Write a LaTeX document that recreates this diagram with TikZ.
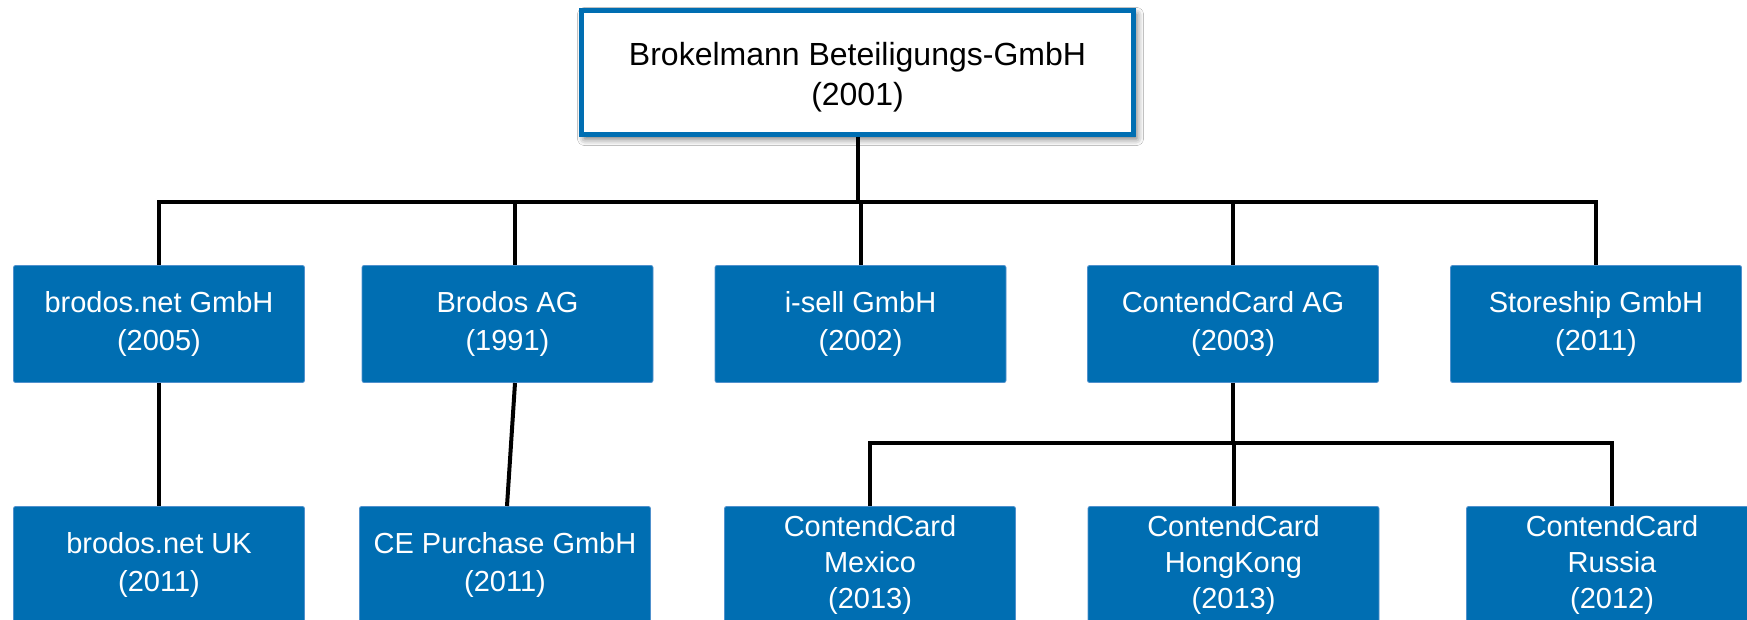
\documentclass[tikz,border=0pt]{standalone}
\usepackage{fontspec}
\setmainfont{Liberation Sans}
\usetikzlibrary{shadows.blur}
\definecolor{boxblue}{RGB}{0,110,178}
\definecolor{boxedge}{RGB}{80,145,205}
\begin{document}
\begin{tikzpicture}[x=1pt,y=-1pt,
  unit/.style={fill=boxblue, draw=boxedge, line width=0.8pt, rounded corners=2pt,
    minimum width=291pt, minimum height=117pt, inner sep=0pt, text=white,
    align=center, font=\fontsize{29}{38}\selectfont},
  unitb/.style={unit, font=\fontsize{29}{36}\selectfont},
  topbox/.style={fill=white, draw=boxblue, line width=5pt, minimum width=552pt,
    minimum height=124pt, inner sep=0pt,
    blur shadow={shadow xshift=3pt, shadow yshift=-4pt, shadow blur radius=7pt, shadow opacity=60}},
  toptext/.style={align=center, inner sep=0pt, font=\fontsize{32}{40}\selectfont},
  link/.style={draw=black, line width=4pt}]
\useasboundingbox (0,0) rectangle (1747,620);
\fill[white] (0,0) rectangle (1747,620);

\node[topbox] (top) at (857.5,72.5) {};
\node[toptext] (toplabel) at (857.5,77.5) {Brokelmann Beteiligungs-GmbH\\(2001)};

\node[unit] (n1) at (159,324) {brodos.net GmbH\\(2005)};
\node[unit] (n2) at (507.5,324) {Brodos AG\\(1991)};
\node[unit] (n3) at (860.5,324) {i-sell GmbH\\(2002)};
\node[unit] (n4) at (1233,324) {ContendCard AG\\(2003)};
\node[unit] (n5) at (1596,324) {Storeship GmbH\\(2011)};

\node[unit] (m1) at (159,565) {brodos.net UK\\(2011)};
\node[unit] (m2) at (505,565) {CE Purchase GmbH\\(2011)};
\node[unitb] (m3) at (870,565) {ContendCard\\Mexico\\(2013)};
\node[unitb] (m4) at (1233.5,565) {ContendCard\\HongKong\\(2013)};
\node[unitb] (m5) at (1612,565) {ContendCard\\Russia\\(2012)};

\coordinate (bus) at (0,202);
\coordinate (bus2) at (0,443);
\coordinate (n2top) at (515,265);
\coordinate (n2bot) at (515,383);
\coordinate (m2top) at (507,506);

\draw[link] (top.south) -- (top.south |- bus);
\draw[link] (n1.north) |- (n5.north |- bus) -- (n5.north);
\draw[link] (n2top) -- (n2top |- bus);
\draw[link] (n3.north) -- (n3.north |- bus);
\draw[link] (n4.north) -- (n4.north |- bus);

\draw[link] (n1.south) -- (m1.north);
\draw[link] (n2bot) -- (m2top);

\draw[link] (n4.south) -- (n4.south |- bus2);
\draw[link] (m3.north) |- (m5.north |- bus2) -- (m5.north);
\draw[link] (m4.north) -- (m4.north |- bus2);
\end{tikzpicture}
\end{document}
